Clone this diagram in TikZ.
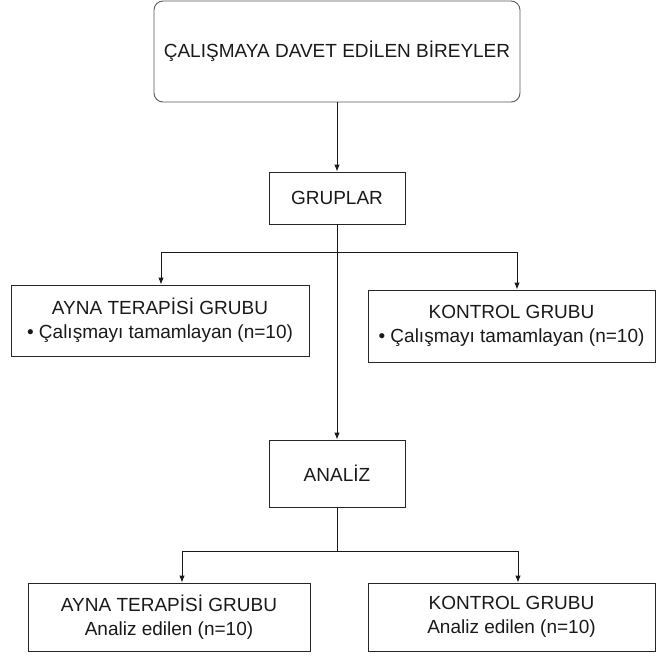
\documentclass[tikz,border=0pt]{standalone}
\usepackage{fontspec}
\setmainfont{Liberation Sans}
\usetikzlibrary{arrows.meta}
\tikzset{
  box/.style={draw=black!85, line width=0.9pt, inner sep=0pt, align=center, text=black!90,
    font=\fontsize{19}{23.5}\selectfont},
  arr/.style={draw=black!90, line width=0.9pt, -{Latex[length=7pt,width=5.5pt]}},
  ln/.style={draw=black!90, line width=0.9pt}
}
\begin{document}
\begin{tikzpicture}[x=1pt,y=-1pt]
\useasboundingbox (0,0) rectangle (658,657);
\node[box, draw=black!65, rounded corners=9pt, minimum width=366pt, minimum height=101pt] (top) at (337,51.5) {ÇALIŞMAYA DAVET EDİLEN BİREYLER};
\node[box, minimum width=136pt, minimum height=52pt] (grup) at (337,198) {GRUPLAR};
\node[box, minimum width=298pt, minimum height=71pt] (ayna1) at (160,320.5) {AYNA TERAPİSİ GRUBU\\ • Çalışmayı tamamlayan (n=10)};
\node[box, minimum width=287pt, minimum height=72pt] (kont1) at (511.5,326) {KONTROL GRUBU\\ • Çalışmayı tamamlayan (n=10)};
\node[box, minimum width=136pt, minimum height=67pt] (analiz) at (337,473.5) {ANALİZ};
\node[box, minimum width=282pt, minimum height=68pt] (ayna2) at (169,617) {AYNA TERAPİSİ GRUBU\\ Analiz edilen (n=10)};
\node[box, minimum width=287pt, minimum height=68pt] (kont2) at (511.5,617) {KONTROL GRUBU\\ Analiz edilen (n=10)};
% connectors
\draw[arr] (top.south) -- (grup.north);
\draw[arr] (grup.south) -- (analiz.north);
\coordinate (b1l) at (161,252);
\coordinate (b1r) at (517,252);
\draw[ln] (b1l) -- (b1r);
\draw[arr] (b1l) -- (b1l |- ayna1.north);
\draw[arr] (b1r) -- (b1r |- kont1.north);
\coordinate (b2) at (337,551);
\coordinate (b2l) at (182,551);
\coordinate (b2r) at (518,551);
\draw[ln] (analiz.south) -- (b2);
\draw[ln] (b2l) -- (b2r);
\draw[arr] (b2l) -- (b2l |- ayna2.north);
\draw[arr] (b2r) -- (b2r |- kont2.north);
\end{tikzpicture}
\end{document}
